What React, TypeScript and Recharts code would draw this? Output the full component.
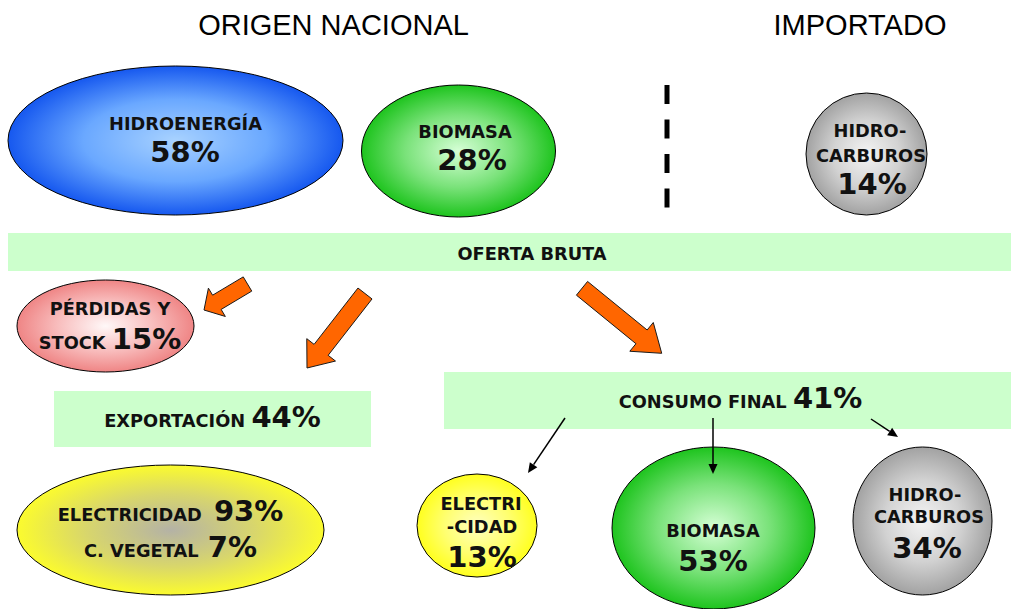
import { ScatterChart, Scatter, XAxis, YAxis, ReferenceLine } from 'recharts';

const originTitles = ['ORIGEN NACIONAL', 'IMPORTADO'];
const supplyLabels = [['HIDROENERGÍA'], ['BIOMASA'], ['HIDRO-', 'CARBUROS']];
const supplyShares = [58, 28, 14];
const balanceLabels = ['OFERTA BRUTA'];
const useLabels = [['PÉRDIDAS Y', 'STOCK'], ['EXPORTACIÓN'], ['CONSUMO FINAL']];
const useShares = [15, 44, 41];
const exportLabels = ['ELECTRICIDAD', 'C. VEGETAL'];
const exportShares = [93, 7];
const consumptionLabels = [['ELECTRI', '-CIDAD'], ['BIOMASA'], ['HIDRO-', 'CARBUROS']];
const consumptionShares = [13, 53, 34];

const W = 1011;
const H = 609;
const FONT = '"DejaVu Sans", Verdana, sans-serif';
const LABEL = 17.8;
const PCT = 29;

const pct = (v: number) => `${v}%`;

type Part = [string, 'l' | 'p', number?];
type Line = { x: number; y: number; parts: Part[] };

// centro, medio, borde
const tones: Record<string, [string, string, string]> = {
  blue: ['#a8d2ff', '#6aa8ff', '#1658ef'],
  green: ['#d6ffd6', '#7ae27a', '#1ec41e'],
  gray: ['#f4f4f4', '#d2d2d2', '#a2a2a2'],
  pink: ['#fff8f8', '#f8bcbc', '#ef8585'],
  olive: ['#b4b2a6', '#d8d66c', '#fbfb2e'],
  yellow: ['#ffffc0', '#ffff70', '#ffff1e'],
};

// layout (chart units = px)
const bubbles = [
  {
    id: 'hidro', x: 175.5, y: 140.5, rx: 167.5, ry: 74.5, tone: 'blue',
    lines: [
      { x: 185.5, y: 130, parts: [[supplyLabels[0][0], 'l']] },
      { x: 185, y: 162, parts: [[pct(supplyShares[0]), 'p']] },
    ],
  },
  {
    id: 'bio1', x: 458.5, y: 151, rx: 97, ry: 66, tone: 'green',
    lines: [
      { x: 465, y: 138, parts: [[supplyLabels[1][0], 'l']] },
      { x: 472, y: 170, parts: [[pct(supplyShares[1]), 'p']] },
    ],
  },
  {
    id: 'hc1', x: 866.5, y: 154, rx: 60.5, ry: 61, tone: 'gray',
    lines: [
      { x: 870, y: 137, parts: [[supplyLabels[2][0], 'l']] },
      { x: 871, y: 162, parts: [[supplyLabels[2][1], 'l']] },
      { x: 872, y: 194, parts: [[pct(supplyShares[2]), 'p']] },
    ],
  },
  {
    id: 'perd', x: 105.5, y: 326, rx: 88.5, ry: 46, tone: 'pink',
    lines: [
      { x: 110, y: 315, parts: [[useLabels[0][0], 'l']] },
      { x: 110, y: 349, parts: [[useLabels[0][1] + ' ', 'l'], [pct(useShares[0]), 'p']] },
    ],
  },
  {
    id: 'expo', x: 170.5, y: 530, rx: 153.5, ry: 65, tone: 'olive',
    lines: [
      { x: 170.5, y: 521, parts: [[exportLabels[0] + ' ', 'l'], [pct(exportShares[0]), 'p', 6]] },
      { x: 170.5, y: 557, parts: [[exportLabels[1] + ' ', 'l'], [pct(exportShares[1]), 'p', 3]] },
    ],
  },
  {
    id: 'elec', x: 477, y: 525.5, rx: 60, ry: 51.5, tone: 'yellow',
    lines: [
      { x: 481, y: 510, parts: [[consumptionLabels[0][0], 'l']] },
      { x: 482, y: 533, parts: [[consumptionLabels[0][1], 'l']] },
      { x: 482, y: 567, parts: [[pct(consumptionShares[0]), 'p']] },
    ],
  },
  {
    id: 'bio2', x: 713.5, y: 528, rx: 101.5, ry: 81, tone: 'green',
    lines: [
      { x: 713, y: 537, parts: [[consumptionLabels[1][0], 'l']] },
      { x: 713, y: 571, parts: [[pct(consumptionShares[1]), 'p']] },
    ],
  },
  {
    id: 'hc2', x: 922.5, y: 521, rx: 69.5, ry: 74, tone: 'gray',
    lines: [
      { x: 925, y: 501, parts: [[consumptionLabels[2][0], 'l']] },
      { x: 929, y: 523, parts: [[consumptionLabels[2][1], 'l']] },
      { x: 927, y: 558, parts: [[pct(consumptionShares[2]), 'p']] },
    ],
  },
];

const boxes = [
  { x: 8, y: 233, x2: 1011, y2: 271, lines: [{ x: 532, y: 260, parts: [[balanceLabels[0], 'l']] }] },
  {
    x: 54, y: 391, x2: 371, y2: 447,
    lines: [{ x: 212.5, y: 427, parts: [[useLabels[1][0] + ' ', 'l'], [pct(useShares[1]), 'p']] }],
  },
  {
    x: 444, y: 372, x2: 1011, y2: 429,
    lines: [{ x: 740.5, y: 408, parts: [[useLabels[2][0] + ' ', 'l'], [pct(useShares[2]), 'p']] }],
  },
];

const blockArrows = [
  { x: 247.5, y: 284, tx: 204, ty: 310, w: 16.6, hw: 33, hl: 15 },
  { x: 365, y: 293.5, tx: 307, ty: 368, w: 17.8, hw: 36.4, hl: 23 },
  { x: 582, y: 288.3, tx: 661.7, ty: 353.3, w: 17.7, hw: 37.1, hl: 26 },
];

const thinArrows = [
  { x: 565, y: 418, tx: 528, ty: 473 },
  { x: 713, y: 418, tx: 713, ty: 474 },
  { x: 871, y: 419, tx: 898, ty: 437 },
];

const titles = [
  { x: 333.5, y: 35, text: originTitles[0] },
  { x: 860, y: 35, text: originTitles[1] },
];

const arrowPoints = (x0: number, y0: number, x1: number, y1: number, w: number, hw: number, hl: number) => {
  const len = Math.hypot(x1 - x0, y1 - y0);
  const ux = (x1 - x0) / len;
  const uy = (y1 - y0) / len;
  const nx = -uy;
  const ny = ux;
  const bx = x1 - ux * hl;
  const by = y1 - uy * hl;
  const pts = [
    [x0 + (nx * w) / 2, y0 + (ny * w) / 2],
    [bx + (nx * w) / 2, by + (ny * w) / 2],
    [bx + (nx * hw) / 2, by + (ny * hw) / 2],
    [x1, y1],
    [bx - (nx * hw) / 2, by - (ny * hw) / 2],
    [bx - (nx * w) / 2, by - (ny * w) / 2],
    [x0 - (nx * w) / 2, y0 - (ny * w) / 2],
  ];
  return pts.map((p) => p.join(',')).join(' ');
};

const TextLines = ({ ox, oy, lines }: { ox: number; oy: number; lines: Line[] }) => (
  <g>
    {lines.map((ln, i) => (
      <text key={i} x={ln.x + ox} y={ln.y + oy} textAnchor="middle" fontFamily={FONT} fontWeight="bold" fill="#111">
        {ln.parts.map(([t, kind, dx], j) => (
          <tspan key={j} fontSize={kind === 'p' ? PCT : LABEL} dx={dx}>
            {t}
          </tspan>
        ))}
      </text>
    ))}
  </g>
);

const renderBubble = (props: any) => {
  const { cx, cy, payload } = props;
  const [inner, mid, outer] = tones[payload.tone];
  const gid = `grad-${payload.id}`;
  return (
    <g>
      <defs>
        <radialGradient id={gid} cx="50%" cy="50%" r="50%">
          <stop offset="0%" stopColor={inner} />
          <stop offset="55%" stopColor={mid} />
          <stop offset="100%" stopColor={outer} />
        </radialGradient>
      </defs>
      <ellipse cx={cx} cy={cy} rx={payload.rx} ry={payload.ry} fill={`url(#${gid})`} stroke="#000" strokeWidth={1} />
      <TextLines ox={cx - payload.x} oy={cy - payload.y} lines={payload.lines} />
    </g>
  );
};

const renderBox = (props: any) => {
  const { cx, cy, payload } = props;
  return (
    <g>
      <rect x={cx} y={cy} width={payload.x2 - payload.x} height={payload.y2 - payload.y} fill="#ccffcc" />
      <TextLines ox={cx - payload.x} oy={cy - payload.y} lines={payload.lines} />
    </g>
  );
};

const renderBlockArrow = (props: any) => {
  const { cx, cy, payload: p } = props;
  const ex = cx + (p.tx - p.x);
  const ey = cy + (p.ty - p.y);
  return (
    <polygon
      points={arrowPoints(cx, cy, ex, ey, p.w, p.hw, p.hl)}
      fill="#ff6600"
      stroke="#1a1a1a"
      strokeWidth={1}
      strokeLinejoin="miter"
    />
  );
};

const renderThinArrow = (props: any) => {
  const { cx, cy, payload: p } = props;
  const ex = cx + (p.tx - p.x);
  const ey = cy + (p.ty - p.y);
  const len = Math.hypot(ex - cx, ey - cy);
  const ux = (ex - cx) / len;
  const uy = (ey - cy) / len;
  const hl = 10;
  const hw = 9;
  const bx = ex - ux * hl;
  const by = ey - uy * hl;
  const head = [
    [ex, ey],
    [bx - (uy * hw) / 2, by + (ux * hw) / 2],
    [bx + (uy * hw) / 2, by - (ux * hw) / 2],
  ]
    .map((q) => q.join(','))
    .join(' ');
  return (
    <g>
      <line x1={cx} y1={cy} x2={bx} y2={by} stroke="#000" strokeWidth={1.5} />
      <polygon points={head} fill="#000" />
    </g>
  );
};

const renderTitle = (props: any) => {
  const { cx, cy, payload } = props;
  return (
    <text x={cx} y={cy} textAnchor="middle" fontFamily='"Liberation Sans", Arial, sans-serif' fontSize={29} fill="#000">
      {payload.text}
    </text>
  );
};

export default function App() {
  return (
    <div style={{ position: 'absolute', left: 0, top: 0, width: W, height: H, background: '#fff' }}>
      <ScatterChart width={W} height={H} margin={{ top: 0, right: 0, bottom: 0, left: 0 }}>
        <XAxis type="number" dataKey="x" domain={[0, W]} allowDataOverflow hide />
        <YAxis type="number" dataKey="y" domain={[0, H]} allowDataOverflow reversed hide />
        <Scatter data={boxes} shape={renderBox} isAnimationActive={false} />
        <Scatter data={blockArrows} shape={renderBlockArrow} isAnimationActive={false} />
        <Scatter data={bubbles} shape={renderBubble} isAnimationActive={false} />
        <Scatter data={thinArrows} shape={renderThinArrow} isAnimationActive={false} />
        <Scatter data={titles} shape={renderTitle} isAnimationActive={false} />
        <ReferenceLine
          segment={[{ x: 667, y: 85 }, { x: 667, y: 208 }]}
          stroke="#000"
          strokeWidth={5}
          strokeDasharray="19 15.5"
          isFront
        />
      </ScatterChart>
    </div>
  );
}
